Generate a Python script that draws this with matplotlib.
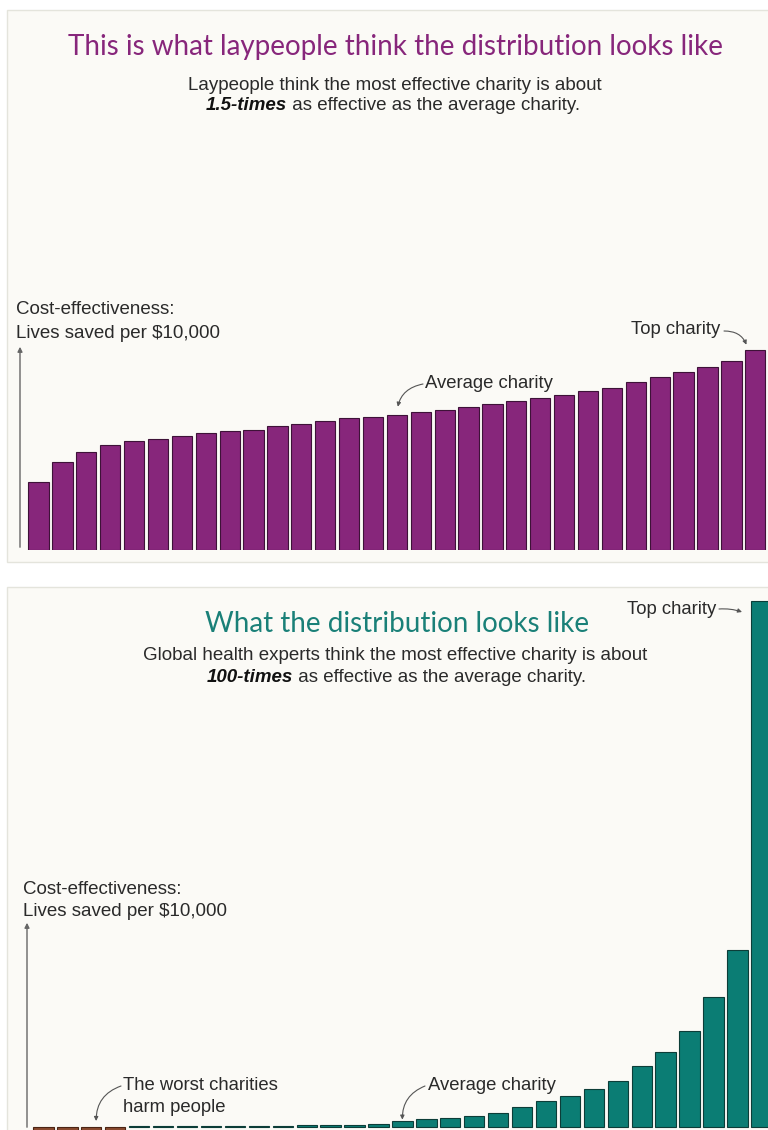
import matplotlib
matplotlib.use("Agg")
import matplotlib.pyplot as plt
from matplotlib.patches import Rectangle, FancyArrowPatch
from matplotlib.transforms import Affine2D

# ---------- data (relative heights) ----------
lay_values = [68, 88, 98, 105, 109, 111, 114, 117, 119, 120, 124, 126, 129, 132, 133,
              135, 138, 140, 143, 146, 149, 152, 155, 159, 162, 168, 173, 178, 183, 189, 200]
expert_values = [-5, -5, -5, -5, 1.5, 1.5, 1.5, 1.5, 1.5, 1.5, 1.5, 2, 2, 2, 3,
                 6, 8, 9, 11, 14, 20, 26, 31, 38, 46, 61, 75, 96, 130, 177, 526]
avg_idx = 15
top_idx = 30

W, H = 768, 1130
PURPLE = "#87267b"
TEAL = "#0b7d74"
BROWN = "#8a4a2f"
PANEL = "#fbfaf6"
TXT = "#2a2a2a"
ARROW = "#555555"
SANS = "Liberation Sans"

fig = plt.figure(figsize=(W / 100, H / 100), dpi=100)
fig.patch.set_facecolor("white")

# pixel coords, y going down
tr = Affine2D().scale(1 / W, -1 / H).translate(0, 1) + fig.transFigure

def px_axes(left, top, right, bottom):
    return fig.add_axes([left / W, 1 - bottom / H, (right - left) / W, (bottom - top) / H])

def mixed_line(cx, y, bold, rest, size):
    # bold-italic lead word + regular rest, centred as one line
    t1 = fig.text(0, y, bold, transform=tr, fontsize=size, fontweight="bold",
                  fontstyle="italic", color="#111111", va="center", ha="left", family=SANS)
    t2 = fig.text(0, y, rest, transform=tr, fontsize=size, color=TXT,
                  va="center", ha="left", family=SANS)
    r = fig.canvas.get_renderer()
    w1 = t1.get_window_extent(r).width
    w2 = t2.get_window_extent(r).width
    x0 = cx - (w1 + w2) / 2
    t1.set_x(x0)
    t2.set_x(x0 + w1)

# panel boxes
for y0, y1 in [(10, 562), (587, 1160)]:
    fig.add_artist(Rectangle((7, y0), 800, y1 - y0, transform=tr,
                             facecolor=PANEL, edgecolor="#e4e4dc", lw=1, zorder=0))

arrow_kw = dict(arrowstyle="-|>", color=ARROW, lw=0.8, mutation_scale=6, shrinkA=0)

# ---------- top panel ----------
fig.text(395, 47, "This is what laypeople think the distribution looks like", transform=tr,
         fontsize=20, family="Lato", color=PURPLE, ha="center", va="center")
fig.text(395, 85, "Laypeople think the most effective charity is about", transform=tr,
         fontsize=13.5, family=SANS, color=TXT, ha="center", va="center")
mixed_line(393, 106, "1.5-times", " as effective as the average charity.", 13.5)

ax1 = px_axes(26.6, 300, 26.6 + 31 * 23.89, 550)
ax1.bar(range(len(lay_values)), lay_values, width=0.85, color=PURPLE,
        edgecolor="#3e1238", linewidth=0.8)
ax1.set_xlim(-0.5, len(lay_values) - 0.5)
ax1.set_ylim(0, 250)
ax1.axis("off")

fig.text(16, 310, "Cost-effectiveness:", transform=tr, fontsize=13.5,
         family=SANS, color=TXT, va="center")
fig.text(16, 333, "Lives saved per $10,000", transform=tr, fontsize=13.5,
         family=SANS, color=TXT, va="center")
fig.add_artist(FancyArrowPatch((20, 550), (20, 344), transform=tr, arrowstyle="-|>",
                               mutation_scale=7, color="#666666", lw=1))

fig.text(425, 384, "Average charity", transform=tr, fontsize=13.3,
         family=SANS, color=TXT, va="center", ha="left")
ax1.annotate("", xy=(avg_idx, lay_values[avg_idx]), xycoords="data",
             xytext=(423, 384), textcoords=tr,
             arrowprops=dict(connectionstyle="arc3,rad=0.4", shrinkB=6, **arrow_kw),
             annotation_clip=False)
fig.text(720, 330, "Top charity", transform=tr, fontsize=13.3,
         family=SANS, color=TXT, va="center", ha="right")
ax1.annotate("", xy=(top_idx - 0.3, lay_values[top_idx]), xycoords="data",
             xytext=(724, 331), textcoords=tr,
             arrowprops=dict(connectionstyle="arc3,rad=-0.4", shrinkB=4, **arrow_kw),
             annotation_clip=False)

# ---------- bottom panel ----------
fig.text(397, 624, "What the distribution looks like", transform=tr,
         fontsize=20, family="Lato", color="#1a8078", ha="center", va="center")
fig.text(395, 655, "Global health experts think the most effective charity is about",
         transform=tr, fontsize=13.5, family=SANS, color=TXT, ha="center", va="center")
mixed_line(396, 677, "100-times", " as effective as the average charity.", 13.5)

ax2 = px_axes(31.5, 590, 31.5 + 31 * 23.93, 1130)
colors = [BROWN if v < 0 else TEAL for v in expert_values]
edges = ["#4a2414" if v < 0 else "#0c3d38" for v in expert_values]
ax2.bar(range(len(expert_values)), expert_values, width=0.85, color=colors,
        edgecolor=edges, linewidth=0.8)
ax2.set_xlim(-0.5, len(expert_values) - 0.5)
ax2.set_ylim(-3, 537)
ax2.axis("off")

fig.text(23, 890, "Cost-effectiveness:", transform=tr, fontsize=13.5,
         family=SANS, color=TXT, va="center")
fig.text(23, 912, "Lives saved per $10,000", transform=tr, fontsize=13.5,
         family=SANS, color=TXT, va="center")
fig.add_artist(FancyArrowPatch((27, 1130), (27, 920), transform=tr, arrowstyle="-|>",
                               mutation_scale=7, color="#666666", lw=1))

fig.text(716, 609, "Top charity", transform=tr, fontsize=13.3,
         family=SANS, color=TXT, va="center", ha="right")
ax2.annotate("", xy=(742, 612), xycoords=tr, xytext=(719, 609), textcoords=tr,
             arrowprops=dict(connectionstyle="arc3,rad=-0.1", shrinkB=0, **arrow_kw),
             annotation_clip=False)

fig.text(428, 1086, "Average charity", transform=tr, fontsize=13.3,
         family=SANS, color=TXT, va="center", ha="left")
ax2.annotate("", xy=(avg_idx, expert_values[avg_idx]), xycoords="data",
             xytext=(425, 1086), textcoords=tr,
             arrowprops=dict(connectionstyle="arc3,rad=0.35", shrinkB=1, **arrow_kw),
             annotation_clip=False)

fig.text(123, 1086, "The worst charities", transform=tr, fontsize=13.3,
         family=SANS, color=TXT, va="center", ha="left")
fig.text(123, 1107, "harm people", transform=tr, fontsize=13.3,
         family=SANS, color=TXT, va="center", ha="left")
ax2.annotate("", xy=(2.2, 6), xycoords="data",
             xytext=(121, 1086), textcoords=tr,
             arrowprops=dict(connectionstyle="arc3,rad=0.35", shrinkB=0, **arrow_kw),
             annotation_clip=False)

fig.savefig("out.png", dpi=100, facecolor=fig.get_facecolor())
